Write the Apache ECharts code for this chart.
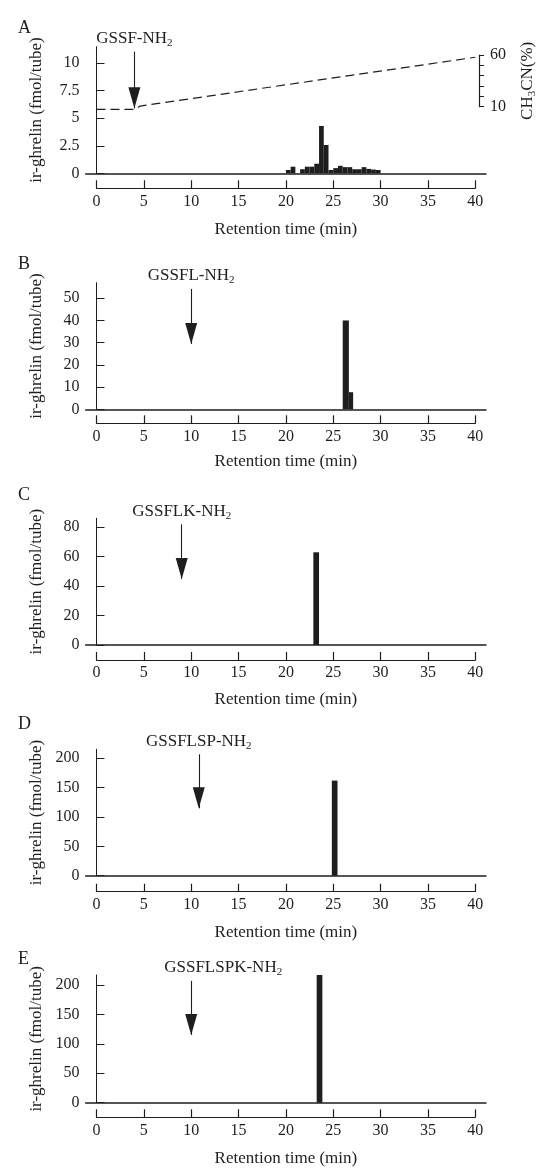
<!DOCTYPE html>
<html>
<head>
<meta charset="utf-8">
<script src="https://cdn.jsdelivr.net/npm/echarts@6/dist/echarts.min.js"></script>
<style>
  html, body { margin: 0; padding: 0; background: #fff; }
  #chart { width: 537px; height: 1169px; }
</style>
</head>
<body>
<div id="chart"></div>
<script>
// retention time axis
const timeTicks = [0, 5, 10, 15, 20, 25, 30, 35, 40]

// panel A: fractions (min) and ir-ghrelin (fmol/tube)
const aStart = [20, 20.5, 21.5, 22, 22.5, 23, 23.5, 24, 24.5, 25, 25.5, 26, 26.5, 27, 27.5, 28, 28.5, 29, 29.5]
const aEnd = [20.5, 21, 22, 22.5, 23, 23.5, 24, 24.5, 25, 25.5, 26, 26.5, 27, 27.5, 28, 28.5, 29, 29.5, 30]
const aValue = [0.3, 0.6, 0.37, 0.6, 0.6, 0.87, 4.3, 2.57, 0.3, 0.47, 0.68, 0.56, 0.56, 0.37, 0.37, 0.56, 0.4, 0.34, 0.3]
// panels B-E
const bStart = [26.0, 26.65], bEnd = [26.65, 27.1], bValue = [40, 7.7]
const cStart = [22.9], cEnd = [23.5], cValue = [63]
const dStart = [24.85], dEnd = [25.45], dValue = [162]
const eStart = [23.25], eEnd = [23.85], eValue = [217]

// CH3CN gradient (%) drawn dashed in panel A
const gradTime = [0, 4.1, 4.6, 40]
const gradPct = [7.5, 7.5, 10.6, 57.8]
const pctTicks = [10, 20, 30, 40, 50, 60]
const pctLabels = [10, 60]

// y axes
const yTicksA = [0, 2.5, 5, 7.5, 10]
const yTicksB = [0, 10, 20, 30, 40, 50]
const yTicksC = [0, 20, 40, 60, 80]
const yTicksD = [0, 50, 100, 150, 200]
const yTicksE = [0, 50, 100, 150, 200]
const yMax = [11.5, 57, 86.1, 215.3, 217]

// peptide arrows (elution position of standards)
const peptides = ['GSSF', 'GSSFL', 'GSSFLK', 'GSSFLSP', 'GSSFLSPK']
const arrowTime = [4, 10, 9, 10.8, 10]
const arrowTop = [11.06, 54.2, 82, 206.8, 207]
const arrowTip = [5.9, 29.4, 44.9, 114.8, 115]

const serif = '"Liberation Serif", "Times New Roman", serif'
const ink = '#1e1e1e'

const layout = [
    { letter: 'A', letterTop: 14, gridTop: 46.7, base: 173.3, axisY: 188.3, xNameGap: 33, labelPad: 0 },
    { letter: 'B', letterTop: 250, gridTop: 282.7, base: 409.3, axisY: 423.3, xNameGap: 30, labelPad: 0 },
    { letter: 'C', letterTop: 481, gridTop: 518.3, base: 645, axisY: 660, xNameGap: 31, labelPad: 0 },
    { letter: 'D', letterTop: 710, gridTop: 749.3, base: 875.7, axisY: 891.7, xNameGap: 32, labelPad: 0 },
    { letter: 'E', letterTop: 945, gridTop: 975, base: 1102.7, axisY: 1117.3, xNameGap: 33, labelPad: 64 }
]
const panelData = [
    [aStart, aEnd, aValue, yTicksA],
    [bStart, bEnd, bValue, yTicksB],
    [cStart, cEnd, cValue, yTicksC],
    [dStart, dEnd, dValue, yTicksD],
    [eStart, eEnd, eValue, yTicksE]
]

const grids = [], xAxes = [], yAxes = [], series = [], titles = []

function renderFraction(params, api) {
    const lo = api.coord([api.value(0), 0])
    const hi = api.coord([api.value(1), api.value(2)])
    return {
        type: 'rect',
        shape: { x: lo[0], y: hi[1], width: hi[0] - lo[0], height: lo[1] - hi[1] },
        style: { fill: ink }
    }
}

layout.forEach((p, i) => {
    const [starts, ends, vals, yTicks] = panelData[i]
    titles.push({
        text: p.letter, left: 13, top: p.letterTop,
        textStyle: { fontFamily: serif, fontSize: 18, fontWeight: 'normal', color: ink }
    })

    // main plot
    const g = grids.length
    grids.push({ left: 85.6, width: 400.4, top: p.gridTop, height: p.base - p.gridTop, containLabel: false, outerBoundsMode: 'none' })
    const xi = xAxes.length
    xAxes.push({
        gridIndex: g, type: 'value', min: -1.15, max: 41.13,
        axisLine: { show: true, lineStyle: { color: ink, width: 1.5 } },
        axisTick: { show: false }, axisLabel: { show: false }, splitLine: { show: false }
    })
    const yi = yAxes.length
    yAxes.push({
        gridIndex: g, type: 'value', min: 0, max: yMax[i],
        axisLine: { show: true, lineStyle: { color: ink, width: 1 } },
        axisTick: { show: true, inside: true, length: 8, customValues: yTicks, lineStyle: { color: ink } },
        axisLabel: { customValues: yTicks, margin: 6, fontFamily: serif, fontSize: 16, color: ink },
        splitLine: { show: false },
        name: 'ir-ghrelin (fmol/tube)', nameLocation: 'middle', nameRotate: 90, nameGap: 41,
        nameTextStyle: { fontFamily: serif, fontSize: 17, color: ink }
    })

    series.push({
        type: 'custom', xAxisIndex: xi, yAxisIndex: yi,
        renderItem: renderFraction,
        encode: { x: [0, 1], y: 2 },
        data: starts.map((s, k) => [s, ends[k], vals[k]]),
        silent: true,
        markLine: {
            silent: true, animation: false,
            symbol: ['none', 'triangle'], symbolSize: [12, 21], symbolOffset: [0, [0, 10.5]],
            lineStyle: { color: ink, width: 1.1, type: 'solid' },
            label: {
                show: true, position: 'start', distance: 3,
                formatter: peptides[i] + '-NH{s|2}',
                fontFamily: serif, fontSize: 17, color: ink, lineHeight: 20,
                padding: [0, 0, 0, p.labelPad],
                rich: { s: { fontFamily: serif, fontSize: 11, lineHeight: 11, verticalAlign: 'bottom', color: ink } }
            },
            emphasis: { disabled: true },
            data: [[{ coord: [arrowTime[i], arrowTop[i]] }, { coord: [arrowTime[i], arrowTip[i]] }]]
        }
    })

    // separate retention time axis below
    const g2 = grids.length
    grids.push({ left: 96.5, width: 378.8, top: p.axisY - 8, height: 8, containLabel: false, outerBoundsMode: 'none' })
    xAxes.push({
        gridIndex: g2, type: 'value', min: 0, max: 40, interval: 5,
        axisLine: { show: true, lineStyle: { color: ink, width: 1.2 } },
        axisTick: { show: true, inside: true, length: 8, lineStyle: { color: ink, width: 1.2 } },
        axisLabel: { margin: 5, fontFamily: serif, fontSize: 16, color: ink, formatter: v => timeTicks.includes(v) ? String(v) : '' },
        splitLine: { show: false },
        name: 'Retention time (min)', nameLocation: 'middle', nameGap: p.xNameGap,
        nameTextStyle: { fontFamily: serif, fontSize: 17, color: ink }
    })
    yAxes.push({ gridIndex: g2, type: 'value', show: false })

    if (i === 0) {
        // hidden % axis for the gradient line, same scale as the bracket
        const pi = yAxes.length
        yAxes.push({ gridIndex: g, type: 'value', min: -54.4, max: 68, show: false })
        series.push({
            type: 'line', xAxisIndex: xi, yAxisIndex: pi,
            data: gradTime.map((t, k) => [t, gradPct[k]]),
            symbol: 'none', silent: true,
            lineStyle: { color: ink, width: 1.2, type: [9, 5] }
        })
    }
})

// CH3CN bracket axis at the right of panel A
const gb = grids.length
grids.push({ left: 479, width: 1, top: 55, height: 51.7, containLabel: false, outerBoundsMode: 'none' })
xAxes.push({ gridIndex: gb, type: 'value', show: false })
yAxes.push({
    gridIndex: gb, type: 'value', position: 'right', min: 10, max: 60,
    axisLine: { show: true, lineStyle: { color: ink, width: 1.2 } },
    axisTick: { show: true, length: 5, customValues: pctTicks, lineStyle: { color: ink } },
    axisLabel: { customValues: pctLabels, margin: 10, fontFamily: serif, fontSize: 16, color: ink },
    splitLine: { show: false },
    name: 'CH{s|3}CN(%)', nameLocation: 'middle', nameRotate: 90, nameGap: 38,
    nameTextStyle: {
        fontFamily: serif, fontSize: 17, color: ink, lineHeight: 20,
        rich: { s: { fontFamily: serif, fontSize: 11, lineHeight: 11, verticalAlign: 'bottom', color: ink } }
    }
})

const chart = echarts.init(document.getElementById('chart'))
chart.setOption({
    animation: false,
    backgroundColor: '#fff',
    title: titles,
    grid: grids,
    xAxis: xAxes,
    yAxis: yAxes,
    series: series
})
</script>
</body>
</html>
